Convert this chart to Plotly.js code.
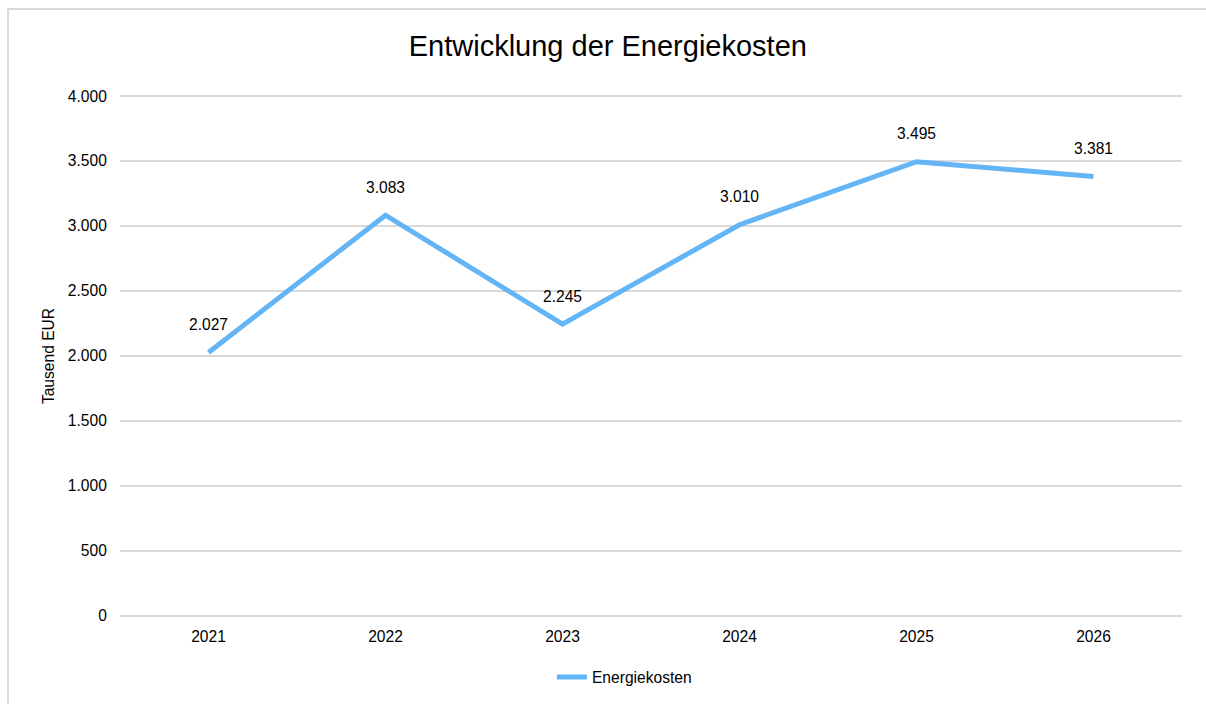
<!DOCTYPE html>
<html>
<head>
<meta charset="utf-8">
<script src="https://cdn.plot.ly/plotly-3.0.1.min.js"></script>
<style>
  html, body { margin: 0; padding: 0; background: #ffffff; overflow: hidden; }
  #chart { width: 1206px; height: 704px; position: absolute; left: 0; top: 0; }
  #frame { position: absolute; left: 7px; top: 8px; width: 1240px; height: 740px;
           border: 2px solid #d9d9d9; pointer-events: none; z-index: 10; }
</style>
</head>
<body>
<div id="chart"></div>
<div id="frame"></div>
<script>
const years = ['2021', '2022', '2023', '2024', '2025', '2026'];
const energiekosten = [2027, 3083, 2245, 3010, 3495, 3381];
const yTicks = [0, 500, 1000, 1500, 2000, 2500, 3000, 3500, 4000];

function fmtDE(v) {
  return String(Math.round(v)).replace(/\B(?=(\d{3})+(?!\d))/g, '.');
}

const fontFam = '"Liberation Sans", Arial, sans-serif';
const fs = 15.6;

const trace = {
  x: years,
  y: energiekosten,
  type: 'scatter',
  mode: 'lines',
  name: 'Energiekosten',
  line: { color: '#64b5f6', width: 5 },
  hoverinfo: 'skip'
};

const annotations = years.map((yr, i) => ({
  x: i, y: energiekosten[i], xref: 'x', yref: 'y',
  text: fmtDE(energiekosten[i]), showarrow: false,
  yshift: 28, font: { family: fontFam, size: fs, color: '#000000' }
}));

const layout = {
  width: 1206, height: 704,
  margin: { l: 120, r: 24, t: 95, b: 87, autoexpand: false },
  paper_bgcolor: '#ffffff', plot_bgcolor: '#ffffff',
  separators: ',.',
  font: { family: fontFam, size: fs, color: '#000000' },
  title: { text: 'Entwicklung der Energiekosten', x: 0.504, xanchor: 'center', y: 0.935, yanchor: 'middle',
           font: { family: fontFam, size: 29, color: '#000000' } },
  xaxis: {
    type: 'category', range: [-0.5, 5.5], showgrid: false, zeroline: false,
    showline: false, ticks: 'outside', ticklen: 5, tickcolor: 'rgba(0,0,0,0)',
    tickfont: { family: fontFam, size: fs, color: '#000000' }
  },
  yaxis: {
    range: [-8, 4008], tickvals: yTicks, ticktext: yTicks.map(fmtDE),
    showgrid: true, gridcolor: '#d9d9d9', gridwidth: 1.5, zeroline: false,
    showline: false, ticks: 'outside', ticklen: 9, tickcolor: 'rgba(0,0,0,0)',
    tickfont: { family: fontFam, size: fs, color: '#000000' },
    title: { text: 'Tausend EUR', standoff: 9, font: { family: fontFam, size: fs, color: '#000000' } }
  },
  showlegend: true,
  legend: { orientation: 'h', x: 0.475, xanchor: 'center', y: -0.083, yanchor: 'top',
            font: { family: fontFam, size: fs, color: '#000000' } },
  annotations: annotations
};

Plotly.newPlot('chart', [trace], layout, { displayModeBar: false, staticPlot: true });
</script>
</body>
</html>
